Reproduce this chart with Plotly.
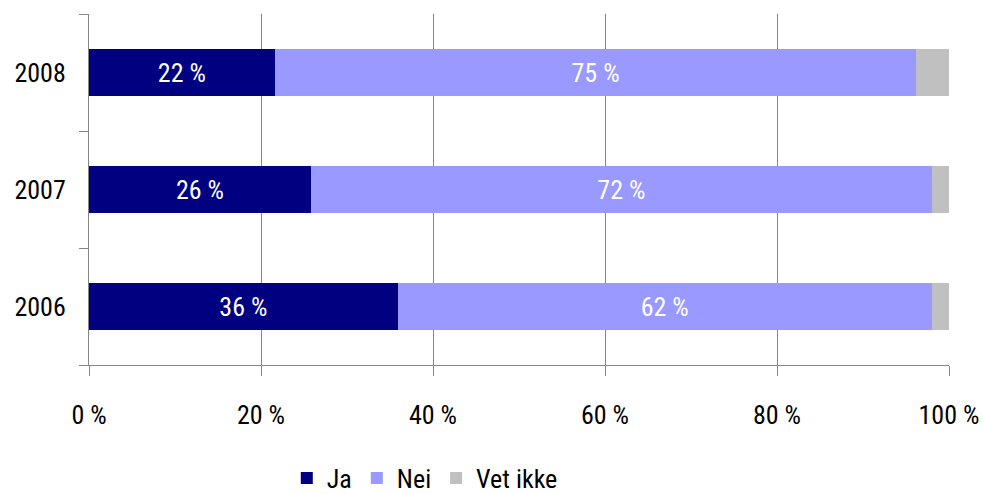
import plotly.graph_objects as go

years = ["2006", "2007", "2008"]
ja = [35.9, 25.8, 21.6]
nei = [62.1, 72.2, 74.6]
vet_ikke = [2.0, 2.0, 3.8]
x_ticks = [0, 20, 40, 60, 80, 100]
x_tick_labels = ["0 %", "20 %", "40 %", "60 %", "80 %", "100 %"]

FONT = "Roboto Condensed, Arial Narrow, Liberation Sans Narrow, Lato, sans-serif"
FS = 26

fig = go.Figure()
fig.add_trace(go.Bar(y=years, x=ja, name="Ja", orientation="h",
                     marker=dict(color="#000080", line=dict(width=0)),
                     texttemplate="%{x:.0f} %", textposition="inside",
                     insidetextanchor="middle",
                     textfont=dict(color="white", size=FS, family=FONT)))
fig.add_trace(go.Bar(y=years, x=nei, name="Nei", orientation="h",
                     marker=dict(color="#9999FF", line=dict(width=0)),
                     texttemplate="%{x:.0f} %", textposition="inside",
                     insidetextanchor="middle",
                     textfont=dict(color="white", size=FS, family=FONT)))
fig.add_trace(go.Bar(y=years, x=vet_ikke, name="Vet ikke", orientation="h",
                     marker=dict(color="#C0C0C0", line=dict(width=0)),
                     texttemplate="", textposition="none"))

fig.update_layout(
    barmode="stack",
    bargap=0.6,
    width=983, height=494,
    margin=dict(l=89, r=34, t=14, b=129, autoexpand=False),
    paper_bgcolor="white", plot_bgcolor="white",
    font=dict(family=FONT, size=FS, color="black"),
    showlegend=True,
    legend=dict(orientation="h", x=0.23, xanchor="left", y=-0.255, yanchor="top",
                font=dict(size=FS), itemwidth=30, traceorder="normal",
                tracegroupgap=0),
    xaxis=dict(range=[0, 100], tickvals=x_ticks, ticktext=x_tick_labels,
               showgrid=True, gridcolor="#868686", gridwidth=1,
               showline=True, linecolor="#868686", linewidth=1,
               ticks="outside", ticklen=10, tickcolor="#868686",
               ticklabelstandoff=17, zeroline=False, fixedrange=True,
               automargin=False),
    yaxis=dict(categoryorder="array", categoryarray=years,
               showgrid=False, showline=True, linecolor="#868686", linewidth=1,
               ticks="outside", ticklen=9, tickcolor="#868686",
               tickson="boundaries", ticklabelstandoff=17, fixedrange=True,
               automargin=False),
)

fig.write_html("out.html", config={"displayModeBar": False},
               post_script="document.body.style.margin='0';document.body.style.overflow='hidden';")
